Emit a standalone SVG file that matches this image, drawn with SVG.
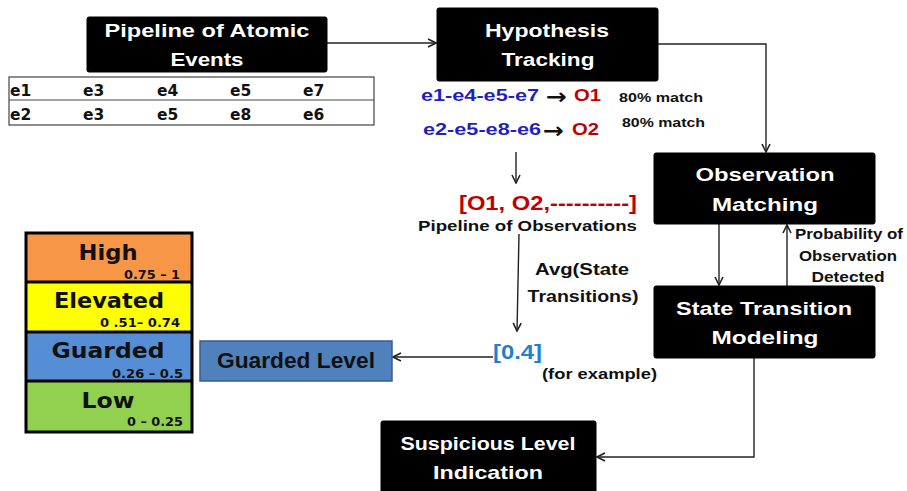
<svg xmlns="http://www.w3.org/2000/svg" width="907" height="491" viewBox="0 0 907 491">
<style>
.box{fill:#000;stroke:#000;}
.bt{font-family:"Liberation Sans",Arial,sans-serif;font-weight:bold;font-size:19px;fill:#fff;text-anchor:middle;}
.lbl{font-family:"Liberation Sans",Arial,sans-serif;font-weight:bold;fill:#111;}
.lg{font-family:"DejaVu Sans",Verdana,sans-serif;font-weight:bold;fill:#111;}
.arr{font-family:"DejaVu Sans",Verdana,sans-serif;font-weight:bold;font-size:22px;fill:#111;}
.conn{fill:none;stroke:#222;stroke-width:1.4;}
.blue{fill:#1f1fc4;}
.red{fill:#c00000;}
</style>
<defs>
<marker id="ah" viewBox="0 0 10 10" refX="9" refY="5" markerWidth="10" markerHeight="10" markerUnits="userSpaceOnUse" orient="auto">
<path d="M1,1 L9,5 L1,9" fill="none" stroke="#222" stroke-width="1.6"/>
</marker>
</defs>
<rect width="907" height="491" fill="#fff"/>

<g id="connectors">
<line class="conn" x1="327" y1="43" x2="436" y2="43" marker-end="url(#ah)"/>
<polyline class="conn" points="658,44 766,44 766,152" marker-end="url(#ah)"/>
<line class="conn" x1="719" y1="224" x2="719" y2="285" marker-end="url(#ah)"/>
<line class="conn" x1="787" y1="286" x2="787" y2="225" marker-end="url(#ah)"/>
<line class="conn" x1="516" y1="152" x2="516" y2="183" marker-end="url(#ah)"/>
<line class="conn" x1="519" y1="234" x2="517" y2="331" marker-end="url(#ah)"/>
<line class="conn" x1="493" y1="357" x2="393" y2="357" marker-end="url(#ah)"/>
<polyline class="conn" points="754,358 754,457 597,457" marker-end="url(#ah)"/>
</g>

<g id="pipeline-atomic">
<rect class="box" x="87" y="17" width="240" height="55" rx="2"/>
<text class="bt" x="207" y="37" textLength="205" lengthAdjust="spacingAndGlyphs">Pipeline of Atomic</text>
<text class="bt" x="207" y="66" textLength="73" lengthAdjust="spacingAndGlyphs">Events</text>
</g>

<g id="event-table">
<rect x="9" y="77" width="365" height="48" fill="#fff" stroke="#444" stroke-width="1.2"/>
<line x1="9" y1="100" x2="374" y2="100" stroke="#444" stroke-width="1.2"/>
<g class="lg" font-size="15.5">
<text x="10" y="96">e1</text><text x="83" y="96">e3</text><text x="157" y="96">e4</text><text x="230" y="96">e5</text><text x="303" y="96">e7</text>
<text x="10" y="119.5">e2</text><text x="83" y="119.5">e3</text><text x="157" y="119.5">e5</text><text x="230" y="119.5">e8</text><text x="303" y="119.5">e6</text>
</g>
</g>

<g id="hypothesis-tracking">
<rect class="box" x="437" y="8" width="221" height="73" rx="2"/>
<text class="bt" x="547" y="36.5" textLength="124" lengthAdjust="spacingAndGlyphs">Hypothesis</text>
<text class="bt" x="548" y="65.5" textLength="93" lengthAdjust="spacingAndGlyphs">Tracking</text>
</g>

<g id="hypotheses">
<text class="lbl blue" x="421" y="101" font-size="17" textLength="118" lengthAdjust="spacingAndGlyphs">e1-e4-e5-e7</text>
<text class="arr" x="546" y="104" textLength="21" lengthAdjust="spacingAndGlyphs">→</text>
<text class="lbl red" x="574" y="101" font-size="17" textLength="27" lengthAdjust="spacingAndGlyphs">O1</text>
<text class="lbl" x="619" y="101.5" font-size="13" textLength="84" lengthAdjust="spacingAndGlyphs">80% match</text>
<text class="lbl blue" x="423" y="135" font-size="17" textLength="118" lengthAdjust="spacingAndGlyphs">e2-e5-e8-e6</text>
<text class="arr" x="543" y="138" textLength="21" lengthAdjust="spacingAndGlyphs">→</text>
<text class="lbl red" x="572" y="135" font-size="17" textLength="27" lengthAdjust="spacingAndGlyphs">O2</text>
<text class="lbl" x="622" y="127" font-size="13" textLength="83" lengthAdjust="spacingAndGlyphs">80% match</text>
</g>

<g id="observation-matching">
<rect class="box" x="654" y="153" width="221" height="71" rx="2"/>
<text class="bt" x="765" y="180.5" textLength="139" lengthAdjust="spacingAndGlyphs">Observation</text>
<text class="bt" x="765" y="210.5" textLength="106" lengthAdjust="spacingAndGlyphs">Matching</text>
</g>

<g id="state-transition">
<rect class="box" x="654" y="286" width="221" height="72" rx="2"/>
<text class="bt" x="764" y="315" textLength="176" lengthAdjust="spacingAndGlyphs">State Transition</text>
<text class="bt" x="765" y="344" textLength="107" lengthAdjust="spacingAndGlyphs">Modeling</text>
</g>

<g id="probability-label">
<text class="lbl" x="849" y="239" font-size="14" text-anchor="middle" textLength="108" lengthAdjust="spacingAndGlyphs">Probability of</text>
<text class="lbl" x="848" y="260.5" font-size="14" text-anchor="middle" textLength="98" lengthAdjust="spacingAndGlyphs">Observation</text>
<text class="lbl" x="848" y="281.5" font-size="14" text-anchor="middle" textLength="73" lengthAdjust="spacingAndGlyphs">Detected</text>
</g>

<g id="pipeline-observations">
<text class="lbl red" x="459" y="210" font-size="20" textLength="178" lengthAdjust="spacingAndGlyphs">[O1, O2,----------]</text>
<text class="lbl" x="418" y="230.5" font-size="15" textLength="219" lengthAdjust="spacingAndGlyphs">Pipeline of Observations</text>
</g>

<g id="avg-label">
<text class="lbl" x="582" y="275" font-size="17" text-anchor="middle" textLength="94" lengthAdjust="spacingAndGlyphs">Avg(State</text>
<text class="lbl" x="583" y="301.5" font-size="17" text-anchor="middle" textLength="111" lengthAdjust="spacingAndGlyphs">Transitions)</text>
</g>

<g id="value">
<text class="lbl" x="493" y="359" font-size="20" style="fill:#1f7fd0" textLength="49" lengthAdjust="spacingAndGlyphs">[0.4]</text>
<text class="lbl" x="542" y="379" font-size="14" textLength="115" lengthAdjust="spacingAndGlyphs">(for example)</text>
</g>

<g id="guarded-level">
<rect x="200" y="341" width="192" height="40" fill="#4f81bd" stroke="#385d8a" stroke-width="1.5"/>
<text class="lbl" x="296" y="368" font-size="22" text-anchor="middle" textLength="158" lengthAdjust="spacingAndGlyphs">Guarded Level</text>
</g>

<g id="legend">
<rect x="26" y="233" width="166" height="49" fill="#f79646"/>
<rect x="26" y="282" width="166" height="50" fill="#ffff00"/>
<rect x="26" y="332" width="166" height="49" fill="#558ed5"/>
<rect x="26" y="381" width="166" height="51" fill="#92d050"/>
<g stroke="#000" stroke-width="3" fill="none">
<rect x="26" y="233" width="166" height="199"/>
<line x1="26" y1="282" x2="192" y2="282"/>
<line x1="26" y1="332" x2="192" y2="332"/>
<line x1="26" y1="381" x2="192" y2="381"/>
</g>
<text class="lg" x="108" y="260" font-size="21" text-anchor="middle" textLength="59" lengthAdjust="spacingAndGlyphs">High</text>
<text class="lg" x="180" y="279" font-size="13" text-anchor="end" textLength="56" lengthAdjust="spacingAndGlyphs">0.75 – 1</text>
<text class="lg" x="109" y="308" font-size="21" text-anchor="middle" textLength="110" lengthAdjust="spacingAndGlyphs">Elevated</text>
<text class="lg" x="180" y="327" font-size="13" text-anchor="end" textLength="80" lengthAdjust="spacingAndGlyphs">0 .51– 0.74</text>
<text class="lg" x="108" y="358" font-size="21" text-anchor="middle" textLength="113" lengthAdjust="spacingAndGlyphs">Guarded</text>
<text class="lg" x="183" y="378" font-size="13" text-anchor="end" textLength="71" lengthAdjust="spacingAndGlyphs">0.26 – 0.5</text>
<text class="lg" x="108" y="408" font-size="21" text-anchor="middle" textLength="53" lengthAdjust="spacingAndGlyphs">Low</text>
<text class="lg" x="183" y="426" font-size="13" text-anchor="end" textLength="56" lengthAdjust="spacingAndGlyphs">0 – 0.25</text>
</g>

<g id="suspicious-level">
<rect class="box" x="381" y="421" width="215" height="74" rx="2"/>
<text class="bt" x="488" y="450" textLength="175" lengthAdjust="spacingAndGlyphs">Suspicious Level</text>
<text class="bt" x="488" y="479" textLength="110" lengthAdjust="spacingAndGlyphs">Indication</text>
</g>
</svg>
